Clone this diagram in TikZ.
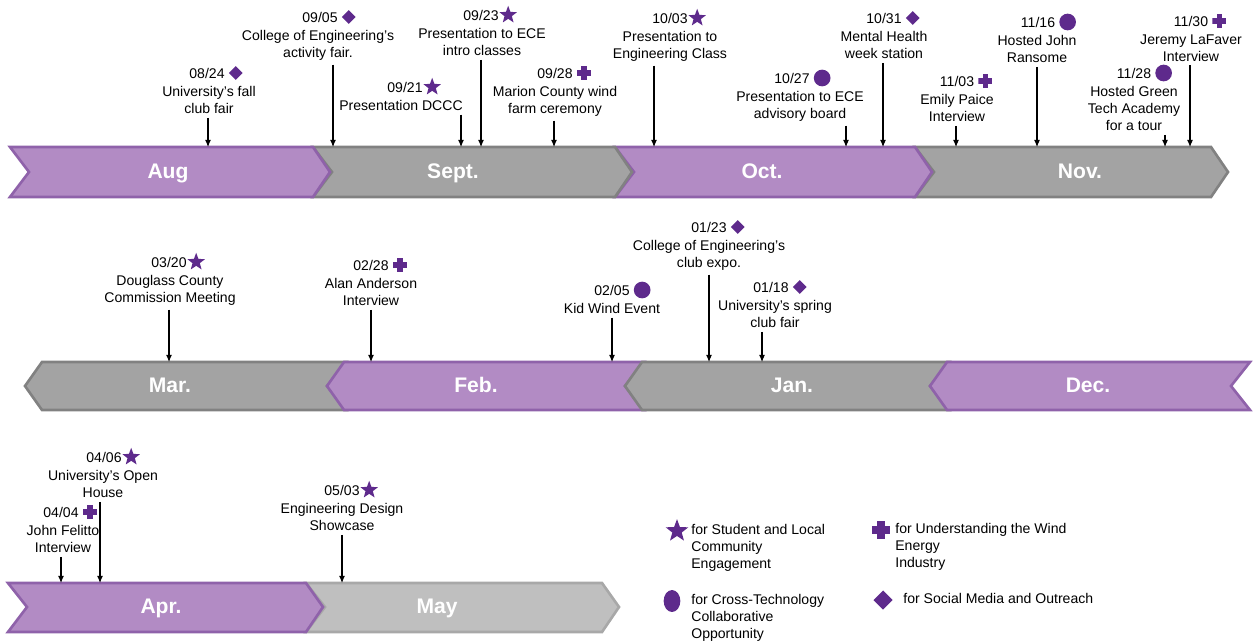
\documentclass[tikz,border=0pt]{standalone}
\usepackage{fontspec}
\setmainfont{Liberation Sans}
\usepackage{tikz}
\usetikzlibrary{arrows.meta,positioning,shapes.geometric,calc}
\definecolor{cPurple}{HTML}{B28BC4}
\definecolor{cPurpleEdge}{HTML}{8F62AA}
\definecolor{cGray}{HTML}{A3A3A3}
\definecolor{cGrayEdge}{HTML}{818181}
\definecolor{cLight}{HTML}{BFBFBF}
\definecolor{cLightEdge}{HTML}{A8A8A8}
\definecolor{cSym}{HTML}{5E2A8C}
\tikzset{
  chev/.style={line width=1.5pt, line join=miter},
  mon/.style={text=white, font=\fontsize{12}{14}\selectfont\bfseries, inner sep=0pt, text height=8.6pt, text depth=0pt},
  evdate/.style={font=\fontsize{8}{9.8}\selectfont, inner sep=0pt},
  evtext/.style={font=\fontsize{8}{9.8}\selectfont, align=center, inner sep=0pt, anchor=north},
  legtext/.style={font=\fontsize{8}{9.8}\selectfont, align=left, inner sep=0pt, anchor=north west},
  evarrow/.style={-{Latex[length=4pt, width=3.4pt]}, line width=0.6pt, shorten <=2pt},
  evstar/.style={star, star points=5, star point ratio=2.4, fill=cSym, inner sep=0pt, minimum size=10.5pt},
  evdot/.style={circle, fill=cSym, inner sep=0pt, minimum size=9.5pt},
  evdiam/.style={diamond, fill=cSym, inner sep=0pt, minimum size=8pt},
  evplus/.style={rectangle, inner sep=0pt, minimum size=8pt, path picture={
    \fill[cSym] ($(path picture bounding box.south west)!0.3!(path picture bounding box.south east)$) rectangle ($(path picture bounding box.north west)!0.7!(path picture bounding box.north east)$);
    \fill[cSym] ($(path picture bounding box.south west)!0.3!(path picture bounding box.north west)$) rectangle ($(path picture bounding box.south east)!0.7!(path picture bounding box.north east)$);
  }},
}

\begin{document}
\begin{tikzpicture}[x=0.02cm, y=-0.02cm]
  \useasboundingbox (0,0) rectangle (1256,643);
  \foreach \n/\xa/\xb/\fc/\ec/\lx/\lab in {nov/915/1211/cGray/cGrayEdge/1080/Nov., oct/615/915/cPurple/cPurpleEdge/762/Oct., sept/313/615/cGray/cGrayEdge/453/Sept., aug/10/313/cPurple/cPurpleEdge/168/Aug} {
    \draw[chev, fill=\fc, draw=\ec] (\xa,147) -- (\xb,147) -- (\xb+17,172) -- (\xb,197) -- (\xa,197) -- (\xa+19,172) -- cycle;
    \node[mon] (\n) at (\lx,171) {\lab};
  }
  \foreach \n/\xa/\xb/\fc/\ec/\lx/\lab in {mar/25/327/cGray/cGrayEdge/170/Mar., feb/327/625/cPurple/cPurpleEdge/476/Feb., jan/625/930/cGray/cGrayEdge/792/Jan., dec/930/1231/cPurple/cPurpleEdge/1088/Dec.} {
    \draw[chev, fill=\fc, draw=\ec] (\xa,386) -- (\xa+17,362) -- (\xb+19,362) -- (\xb,386) -- (\xb+19,410) -- (\xa+17,410) -- cycle;
    \node[mon] (\n) at (\lx,385) {\lab};
  }
  \foreach \n/\xa/\xb/\fc/\ec/\lx/\lab in {may/306/602/cLight/cLightEdge/437/May, apr/8/306/cPurple/cPurpleEdge/161/Apr.} {
    \draw[chev, fill=\fc, draw=\ec] (\xa,583) -- (\xb,583) -- (\xb+17,607) -- (\xb,632) -- (\xa,632) -- (\xa+19,607) -- cycle;
    \node[mon] (\n) at (\lx,606) {\lab};
  }
  \foreach \n/\cx/\dx/\dy/\sym/\dt/\txt/\ax/\ay in {
      e1/209/207/73/evdiam/{08/24}/{University's fall\\club fair}/208/147,
      e2/318/320/17/evdiam/{09/05}/{College of Engineering's\\activity fair.}/333/147,
      e3/401/405/87/evstar/{09/21}/{Presentation DCCC}/461/147,
      e4/482/481/15/evstar/{09/23}/{Presentation to ECE\\intro classes}/481/147,
      e5/555/555/73/evplus/{09/28}/{Marion County wind\\farm ceremony}/554/147,
      e6/670/670/18/evstar/{10/03}/{Presentation to\\Engineering Class}/654/147,
      e7/800/792/78/evdot/{10/27}/{Presentation to ECE\\advisory board}/846/147,
      e8/884/884/18/evdiam/{10/31}/{Mental Health\\week station}/883/147,
      e9/957/957/81/evplus/{11/03}/{Emily Paice\\Interview}/956/147,
      e10/1037/1038/22/evdot/{11/16}/{Hosted John\\Ransome}/1037/147,
      e11/1134/1134/73/evdot/{11/28}/{Hosted Green\\Tech Academy\\for a tour}/1165/147,
      e12/1191/1191/21/evplus/{11/30}/{Jeremy LaFaver\\Interview}/1190/147,
      e13/170/169/262/evstar/{03/20}/{Douglass County\\Commission Meeting}/169/362,
      e14/371/371/265/evplus/{02/28}/{Alan Anderson\\Interview}/371/362,
      e15/612/612/290/evdot/{02/05}/{Kid Wind Event}/612/362,
      e16/709/709/227/evdiam/{01/23}/{College of Engineering's\\club expo.}/709/362,
      e17/775/771/287/evdiam/{01/18}/{University's spring\\club fair}/762/362,
      e18/103/104/457/evstar/{04/06}/{University's Open\\House}/100/583,
      e19/63/61/512/evplus/{04/04}/{John Felitto\\Interview}/61/583,
      e20/342/342/490/evstar/{05/03}/{Engineering Design\\Showcase}/342/583} {
    \node[evdate] (d\n) at (\dx,\dy) {\dt};
    \node[\sym, right=2pt of d\n] (s\n) {};
    \node[evtext] (\n) at (\cx,\dy+13) {\txt};
    \coordinate (a\n) at (\ax,\ay);
    \draw[evarrow] (\n.south -| a\n) -- (a\n);
  }
  \node[evstar, minimum size=13.5pt] (ls1) at (677,531) {};
  \node[legtext] (lt1) at (691,524) {for Student and Local\\Community\\Engagement};
  \node[evdot, ellipse, minimum width=9.5pt, minimum height=12.5pt] (ls2) at (672,601) {};
  \node[legtext] (lt2) at (691,594) {for Cross-Technology\\Collaborative\\Opportunity};
  \node[evplus, minimum size=10.5pt] (ls3) at (881,530) {};
  \node[legtext] (lt3) at (895,523) {for Understanding the Wind\\Energy\\Industry};
  \node[evdiam, minimum size=11pt] (ls4) at (883,600) {};
  \node[legtext] (lt4) at (903,593) {for Social Media and Outreach};
\end{tikzpicture}
\end{document}
